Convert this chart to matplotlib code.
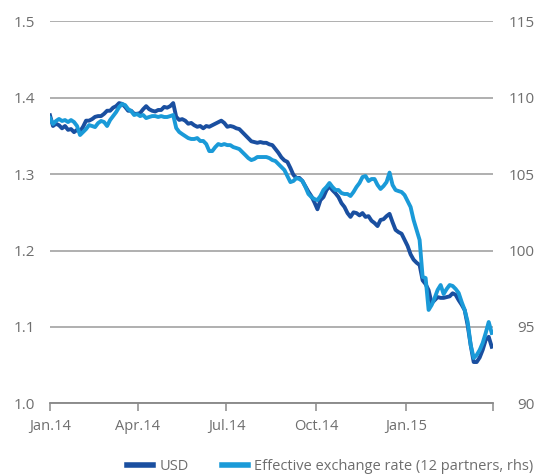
import matplotlib
matplotlib.use("Agg")
import matplotlib.pyplot as plt
import pandas as pd

# EUR per USD (lhs) and effective exchange rate, 12 partners (rhs)
usd = [1.377, 1.363, 1.366, 1.364, 1.360, 1.363, 1.358, 1.359, 1.355, 1.358,
       1.356, 1.362, 1.370, 1.370, 1.372, 1.375, 1.376, 1.376, 1.379, 1.383,
       1.383, 1.387, 1.389, 1.393, 1.392, 1.388, 1.383, 1.383, 1.379, 1.379,
       1.380, 1.385, 1.389, 1.385, 1.383, 1.382, 1.384, 1.384, 1.388, 1.387,
       1.389, 1.393, 1.375, 1.371, 1.372, 1.370, 1.366, 1.367, 1.364, 1.362,
       1.363, 1.360, 1.363, 1.362, 1.364, 1.366, 1.368, 1.370, 1.367, 1.362,
       1.363, 1.362, 1.360, 1.359, 1.355, 1.351, 1.347, 1.343, 1.342, 1.341,
       1.342, 1.341, 1.341, 1.339, 1.338, 1.333, 1.328, 1.322, 1.318, 1.316,
       1.308, 1.299, 1.295, 1.295, 1.291, 1.284, 1.277, 1.271, 1.263, 1.254,
       1.266, 1.270, 1.279, 1.284, 1.279, 1.275, 1.270, 1.262, 1.257, 1.249,
       1.244, 1.250, 1.249, 1.246, 1.249, 1.244, 1.245, 1.239, 1.236, 1.232,
       1.240, 1.241, 1.245, 1.248, 1.237, 1.227, 1.224, 1.222, 1.214, 1.206,
       1.195, 1.188, 1.184, 1.181, 1.161, 1.156, 1.148, 1.131, 1.135, 1.139,
       1.138, 1.138, 1.139, 1.140, 1.144, 1.142, 1.135, 1.129, 1.122, 1.102,
       1.076, 1.054, 1.054, 1.060, 1.070, 1.083, 1.087, 1.074]

eer = [108.67, 108.28, 108.48, 108.61, 108.48, 108.54, 108.41, 108.54, 108.41, 108.15,
       107.56, 107.76, 107.95, 108.21, 108.15, 108.08, 108.34, 108.48, 108.41, 108.15,
       108.54, 108.80, 109.06, 109.39, 109.59, 109.52, 109.26, 109.13, 108.87, 108.93,
       108.80, 108.87, 108.67, 108.74, 108.80, 108.80, 108.74, 108.80, 108.74, 108.74,
       108.80, 108.87, 108.02, 107.76, 107.62, 107.49, 107.36, 107.30, 107.30, 107.36,
       107.17, 107.17, 106.97, 106.51, 106.51, 106.77, 106.97, 106.90, 106.97, 106.90,
       106.90, 106.77, 106.71, 106.64, 106.45, 106.25, 106.05, 105.92, 105.99, 106.12,
       106.12, 106.12, 106.12, 106.05, 105.92, 105.86, 105.66, 105.46, 105.27, 104.88,
       104.48, 104.55, 104.74, 104.68, 104.55, 104.16, 103.70, 103.50, 103.37, 103.30,
       103.57, 103.96, 104.16, 104.42, 104.16, 103.96, 103.96, 103.76, 103.70, 103.70,
       103.57, 103.83, 104.16, 104.42, 104.81, 104.88, 104.55, 104.68, 104.68, 104.29,
       104.03, 104.22, 104.48, 105.10, 104.29, 103.96, 103.89, 103.83, 103.63, 103.24,
       102.85, 102.00, 101.34, 100.69, 98.27, 98.20, 96.11, 96.43, 96.89, 97.42,
       97.74, 97.15, 97.48, 97.74, 97.68, 97.48, 97.22, 96.63, 96.11, 95.32,
       93.82, 92.96, 93.16, 93.49, 93.95, 94.60, 95.32, 94.60]

dates = pd.date_range("2014-01-01", "2015-03-30", periods=len(usd))

tick_dates = pd.to_datetime(["2014-01-01", "2014-04-01", "2014-07-01",
                             "2014-10-01", "2015-01-01", "2015-03-31"])
tick_labels = ["Jan.14", "Apr.14", "Jul.14", "Oct.14", "Jan.15", ""]

dark = "#1a4fa0"
light = "#1a9ad8"
grey = "#6e6e6e"
plt.rcParams["font.family"] = ["Open Sans", "DejaVu Sans"]

fig = plt.figure(figsize=(5.37, 4.75), dpi=100)
ax = fig.add_axes([0.0931, 0.151, 0.8244, 0.804])
ax2 = ax.twinx()

ax.plot(dates, usd, color=dark, lw=2.8, label="USD", solid_joinstyle="round")
ax2.plot(dates, eer, color=light, lw=2.8,
         label="Effective exchange rate (12 partners, rhs)", solid_joinstyle="round")

ax.set_ylim(1.0, 1.5)
ax.set_yticks([1.0, 1.1, 1.2, 1.3, 1.4, 1.5])
ax2.set_ylim(90, 115)
ax2.set_yticks([90, 95, 100, 105, 110, 115])
ax.set_xlim(tick_dates[0], tick_dates[-1])
ax.set_xticks(tick_dates)
ax.set_xticklabels(tick_labels)

ax.grid(axis="y", color="#9a9a9a", lw=1.1)
ax.set_axisbelow(True)
for a in (ax, ax2):
    for s in ("top", "left", "right"):
        a.spines[s].set_visible(False)
    a.spines["bottom"].set_color("#8a8a8a")
    a.spines["bottom"].set_linewidth(1.1)
ax.tick_params(axis="y", length=0, pad=11, labelsize=11, labelcolor=grey)
ax2.tick_params(axis="y", length=0, pad=30, labelsize=11, labelcolor=grey)
for t in ax2.get_yticklabels():
    t.set_horizontalalignment("right")
ax.tick_params(axis="x", length=6, width=1.1, color="#8a8a8a", pad=5,
               labelsize=10.5, labelcolor=grey)

h1, l1 = ax.get_legend_handles_labels()
h2, l2 = ax2.get_legend_handles_labels()
leg = fig.legend(h1 + h2, l1 + l2, loc="center", bbox_to_anchor=(0.615, 0.018),
                 ncol=2, frameon=False, fontsize=10.5, handlelength=1.8,
                 columnspacing=2.3, handletextpad=0.4)
for line in leg.get_lines():
    line.set_linewidth(4)
for t in leg.get_texts():
    t.set_color(grey)

fig.savefig("out.png", dpi=100)
